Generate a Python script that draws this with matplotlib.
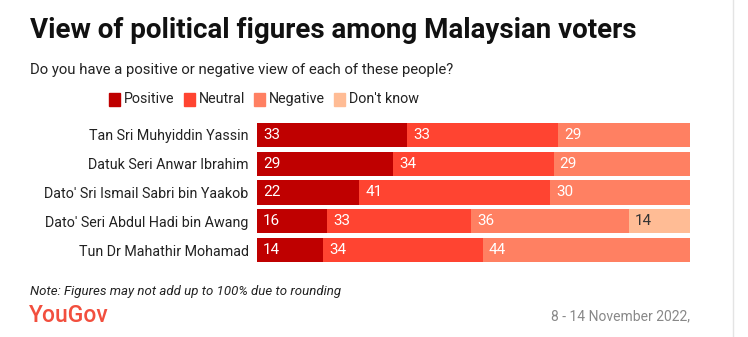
import matplotlib.pyplot as plt
import numpy as np

plt.rcParams['font.family'] = ['Roboto', 'DejaVu Sans']

people = ["Tan Sri Muhyiddin Yassin", "Datuk Seri Anwar Ibrahim",
          "Dato' Sri Ismail Sabri bin Yaakob", "Dato' Seri Abdul Hadi bin Awang",
          "Tun Dr Mahathir Mohamad"]
categories = ["Positive", "Neutral", "Negative", "Don't know"]
positive = [33, 29, 22, 16, 14]
neutral = [33, 34, 41, 33, 34]
negative = [29, 29, 30, 36, 44]
dont_know = [0, 0, 0, 14, 0]

colors = ["#bf0000", "#ff4431", "#ff8062", "#ffbc95"]
text_colors = ["white", "white", "white", "#333333"]

series = np.array([positive, neutral, negative, dont_know], dtype=float)
totals = series.sum(axis=0)
shares = series / totals * 100  # each row stretched to the full bar width

fig = plt.figure(figsize=(7.48, 3.37), dpi=100)
W, H = 748, 337
ax = fig.add_axes([257 / W, 1 - 264.5 / H, 433 / W, 144 / H])

y = np.arange(len(people))
left = np.zeros(len(people))
for i, cat in enumerate(categories):
    ax.barh(y, shares[i], left=left, height=0.84, color=colors[i],
            edgecolor="none", label=cat)
    for j in range(len(people)):
        if series[i, j] > 0:
            ax.text(left[j] + 1.4, y[j], f"{int(series[i, j])}", va="center",
                    ha="left", color=text_colors[i], fontsize=11)
    left += shares[i]

ax.set_xlim(0, 100)
ax.set_ylim(len(people) - 0.5, -0.5)
ax.set_xticks([])
ax.set_yticks(y)
ax.set_yticklabels(people, fontsize=10.3, color="#222222")
ax.tick_params(axis="y", length=0, pad=6)
for s in ax.spines.values():
    s.set_visible(False)

# titles
fig.text(30 / W, 1 - 30 / H, "View of political figures among Malaysian voters",
         fontsize=20, fontweight="bold", va="center", ha="left", color="#111111")
fig.text(30 / W, 1 - 70 / H, "Do you have a positive or negative view of each of these people?",
         fontsize=10.7, va="center", ha="left", color="#222222")

# legend, laid out left to right from measured text widths and centred
renderer = fig.canvas.get_renderer()
sq, gap_txt, gap_item = 11, 4, 9
labels = []
widths = []
for cat in categories:
    t = fig.text(0, 1 - 99 / H, cat, fontsize=10.3, va="center", ha="left",
                 color="#222222")
    labels.append(t)
    widths.append(t.get_window_extent(renderer).width)
total_w = sum(sq + gap_txt + w for w in widths) + gap_item * (len(categories) - 1)
x = 264 - total_w / 2
for i, t in enumerate(labels):
    fig.patches.append(plt.Rectangle((x / W, 1 - 105.5 / H), sq / W, 13 / H,
                                     transform=fig.transFigure, color=colors[i]))
    t.set_x((x + sq + gap_txt) / W)
    x += sq + gap_txt + widths[i] + gap_item

# footer
fig.text(30 / W, 1 - 292 / H, "Note: Figures may not add up to 100% due to rounding",
         fontsize=9.5, style="italic", va="center", ha="left", color="#222222")
fig.text(29 / W, 1 - 315 / H, "YouGov", fontsize=16.5, fontweight="medium",
         va="center", ha="left", color="#f24f3e")
fig.text(690 / W, 1 - 316 / H, "8 - 14 November 2022,", fontsize=10,
         va="center", ha="right", color="#888888")

fig.add_artist(plt.Line2D([733 / W, 733 / W], [0, 1], color="#e4e4e4", lw=1))

fig.savefig("out.png", dpi=100)
